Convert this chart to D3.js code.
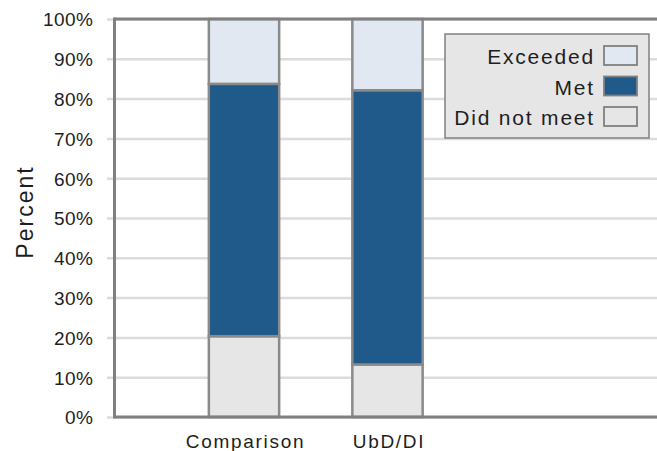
<!DOCTYPE html>
<html><head><meta charset="utf-8">
<script src="https://cdn.jsdelivr.net/npm/d3@7"></script>
<style>
html,body{margin:0;padding:0;background:#fff;}
text{font-family:"Liberation Sans",Arial,sans-serif;fill:#1e1e1e;}
</style></head>
<body><svg id="c" width="657" height="451"></svg>
<script>
const categories = ["Comparison", "UbD/DI"];
const seriesNames = ["Did not meet", "Met", "Exceeded"];
const didNotMeet = [20.3, 13.2];
const met = [63.4, 68.9];
const exceeded = [16.3, 17.9];
const yTicks = [0, 10, 20, 30, 40, 50, 60, 70, 80, 90, 100];
const legendOrder = ["Exceeded", "Met", "Did not meet"];
const colors = {"Did not meet": "#e6e6e6", "Met": "#1f5a8a", "Exceeded": "#e1e8f1"};

(function () {
const svg = d3.select("#c");
const pL = 114.5, pR = 657, pT = 19, pB = 417;

const y = d3.scaleLinear().domain([0, 100]).range([pB, pT]);
const x = d3.scaleBand().domain(categories).range([172.25, 459.25]).paddingInner(0.51).paddingOuter(0.255);

const g = svg.append("g").attr("transform", `translate(${pL},0)`);
g.call(d3.axisLeft(y).tickValues(yTicks).tickSize(0).tickFormat(d => d + "%"));
g.select(".domain").remove();
g.selectAll(".tick text").attr("font-size", 19).attr("letter-spacing", 0.5).attr("dy", 6.8).attr("x", -21);
g.selectAll(".tick").append("line")
  .attr("x1", -7.5).attr("x2", pR - pL).attr("stroke", "#dcdcdc").attr("stroke-width", 2.5);

const rows = categories.map((c, i) => ({cat: c, "Did not meet": didNotMeet[i], "Met": met[i], "Exceeded": exceeded[i]}));
const stack = d3.stack().keys(seriesNames)(rows);
svg.append("g").selectAll("g").data(stack).join("g")
  .attr("fill", d => colors[d.key])
  .selectAll("rect").data(d => d).join("rect")
  .attr("x", d => x(d.data.cat))
  .attr("width", x.bandwidth())
  .attr("y", d => y(d[1]))
  .attr("height", d => y(d[0]) - y(d[1]))
  .attr("stroke", "#8a8a8a").attr("stroke-width", 2.5);

svg.append("line").attr("x1", pL).attr("x2", pR).attr("y1", pT).attr("y2", pT).attr("stroke", "#808080").attr("stroke-width", 3);
svg.append("line").attr("x1", pL).attr("x2", pR).attr("y1", pB).attr("y2", pB).attr("stroke", "#808080").attr("stroke-width", 3);
svg.append("line").attr("x1", pL).attr("x2", pL).attr("y1", pT - 1.5).attr("y2", pB + 1.5).attr("stroke", "#808080").attr("stroke-width", 3);

const xa = svg.append("g").attr("transform", `translate(0,${pB})`)
  .call(d3.axisBottom(x).tickSize(0).tickPadding(0));
xa.select(".domain").remove();
xa.selectAll(".tick text").attr("font-size", 19).attr("letter-spacing", 1.7).attr("dy", 0).attr("y", 31).attr("dx", 1.5);

svg.append("text").attr("transform", "translate(33,212) rotate(-90)")
  .attr("text-anchor", "middle").attr("font-size", 23).attr("letter-spacing", 2).text("Percent");

const lg = svg.append("g");
lg.append("rect").attr("x", 445).attr("y", 34).attr("width", 204).attr("height", 104)
  .attr("fill", "#e6e6e6").attr("stroke", "#808080").attr("stroke-width", 1.5);
const li = lg.selectAll("g.li").data(legendOrder).join("g").attr("class", "li")
  .attr("transform", (d, i) => `translate(0,${46 + i * 30.5})`);
li.append("rect").attr("x", 604).attr("y", 0).attr("width", 33).attr("height", 19)
  .attr("fill", d => colors[d]).attr("stroke", "#808080").attr("stroke-width", 1.8);
li.append("text").attr("x", 595).attr("y", 18).attr("text-anchor", "end")
  .attr("font-size", 21).attr("letter-spacing", 1.8).text(d => d);
})();
</script></body></html>
